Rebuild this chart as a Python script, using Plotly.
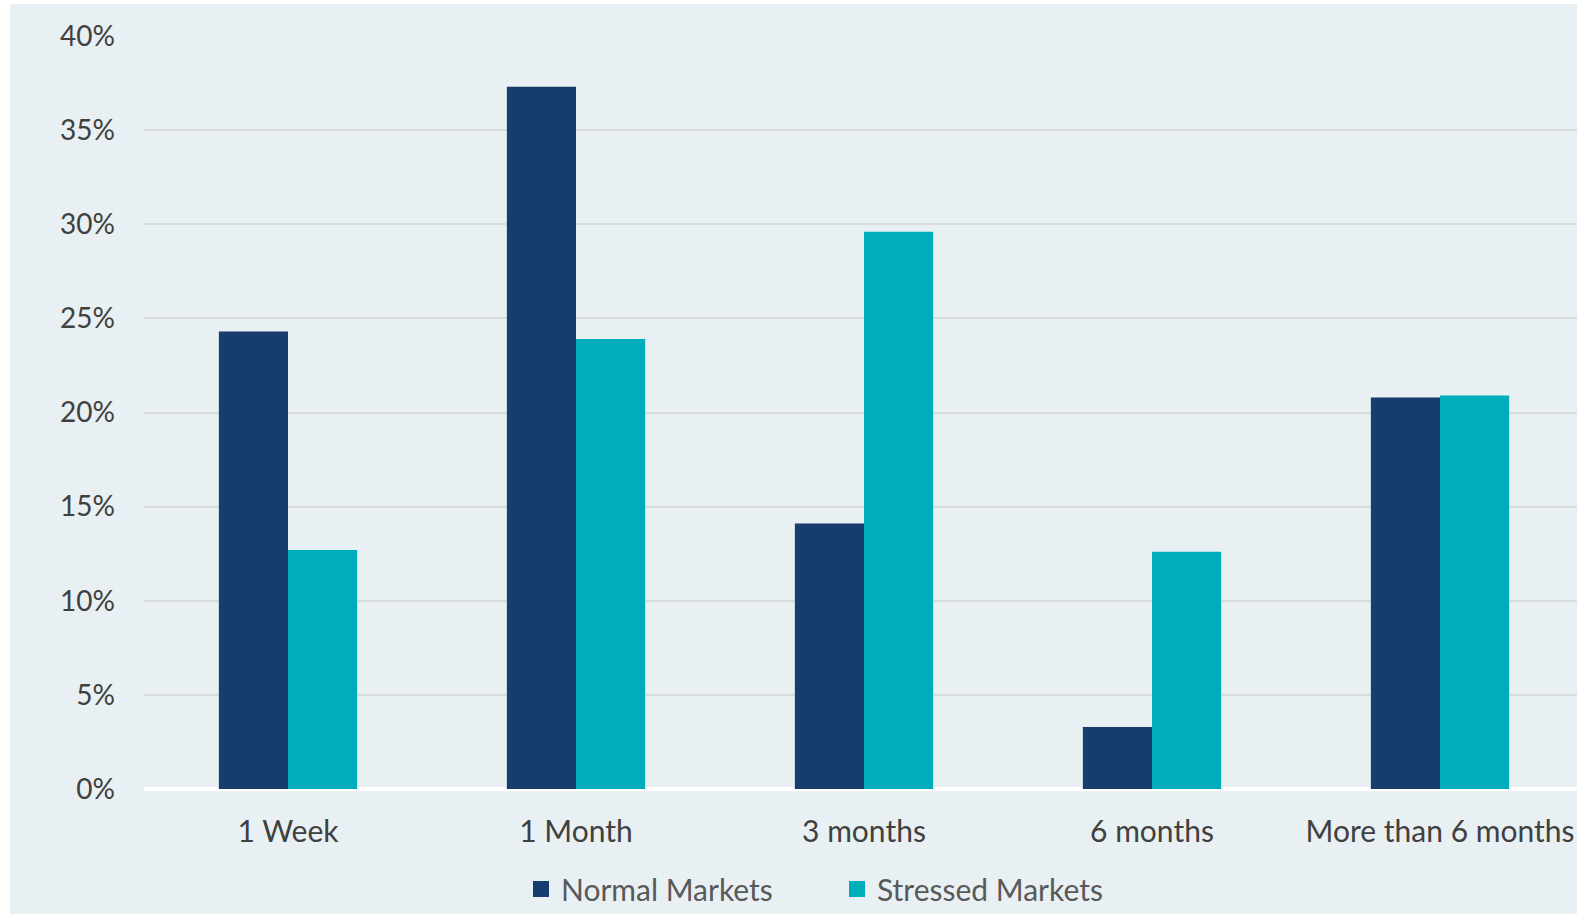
import plotly.graph_objects as go

# Horizon categories and share of respondents (%)
categories = ["1 Week", "1 Month", "3 months", "6 months", "More than 6 months"]
normal_markets = [24.3, 37.3, 14.1, 3.3, 20.8]
stressed_markets = [12.7, 23.9, 29.6, 12.6, 20.9]
y_ticks = [0, 5, 10, 15, 20, 25, 30, 35, 40]
y_tick_labels = [f"{v}%" for v in y_ticks]
series_names = ["Normal Markets", "Stressed Markets"]

W, H = 1577, 914
M_L, M_R, M_T, M_B = 144, 0, 36, 125
PW, PH = W - M_L - M_R, H - M_T - M_B

BG = "#E8F0F3"
NAVY = "#173D6E"
TEAL = "#00ADBA"
FONT = "Lato"

fig = go.Figure()
for name, values, color in zip(series_names, [normal_markets, stressed_markets], [NAVY, TEAL]):
    fig.add_trace(go.Bar(
        name=name, x=categories, y=values, showlegend=False,
        marker=dict(color=color, line=dict(width=0)),
    ))
    # legend entry drawn as a larger square swatch
    fig.add_trace(go.Scatter(
        name=name, x=[None], y=[None], mode="markers",
        marker=dict(symbol="square", size=16, color=color),
        hoverinfo="skip",
    ))

# white frame strips on the left and top edges of the canvas
def px_x(x):
    return (x - M_L) / PW

def px_y(y):
    return (H - M_B - y) / PH

shapes = [
    dict(type="rect", xref="paper", yref="paper", layer="below",
         x0=px_x(0), x1=px_x(10), y0=px_y(H), y1=px_y(0),
         fillcolor="white", line=dict(width=0)),
    dict(type="rect", xref="paper", yref="paper", layer="below",
         x0=px_x(0), x1=px_x(W), y0=px_y(4), y1=px_y(0),
         fillcolor="white", line=dict(width=0)),
]

fig.update_layout(
    width=W, height=H,
    margin=dict(l=M_L, r=M_R, t=M_T, b=M_B, pad=0, autoexpand=False),
    paper_bgcolor=BG, plot_bgcolor=BG,
    barmode="group", bargap=0.52, bargroupgap=0,
    font=dict(family=FONT, size=28, color="#404040"),
    shapes=shapes,
    showlegend=True,
    legend=dict(
        orientation="h", xanchor="left", yanchor="middle",
        x=px_x(521), y=px_y(889),
        entrywidth=271, entrywidthmode="pixels",
        font=dict(family=FONT, size=30, color="#595959"),
        bgcolor="rgba(0,0,0,0)", itemclick=False, itemdoubleclick=False,
    ),
    xaxis=dict(
        range=[-0.5, 4.5 - 7 / 288], showgrid=False, zeroline=False,
        showline=False, ticks="", ticklabelstandoff=22,
        tickfont=dict(family=FONT, size=30, color="#404040"),
        fixedrange=True,
    ),
    yaxis=dict(
        range=[0, 40], tickvals=y_ticks, ticktext=y_tick_labels,
        showgrid=True, gridcolor="#D8DCDE", gridwidth=1.5,
        zeroline=True, zerolinecolor="white", zerolinewidth=4,
        showline=False, ticks="", ticklabelstandoff=28,
        tickfont=dict(family=FONT, size=28, color="#404040"),
        fixedrange=True,
    ),
)

fig.write_html("out.html")
